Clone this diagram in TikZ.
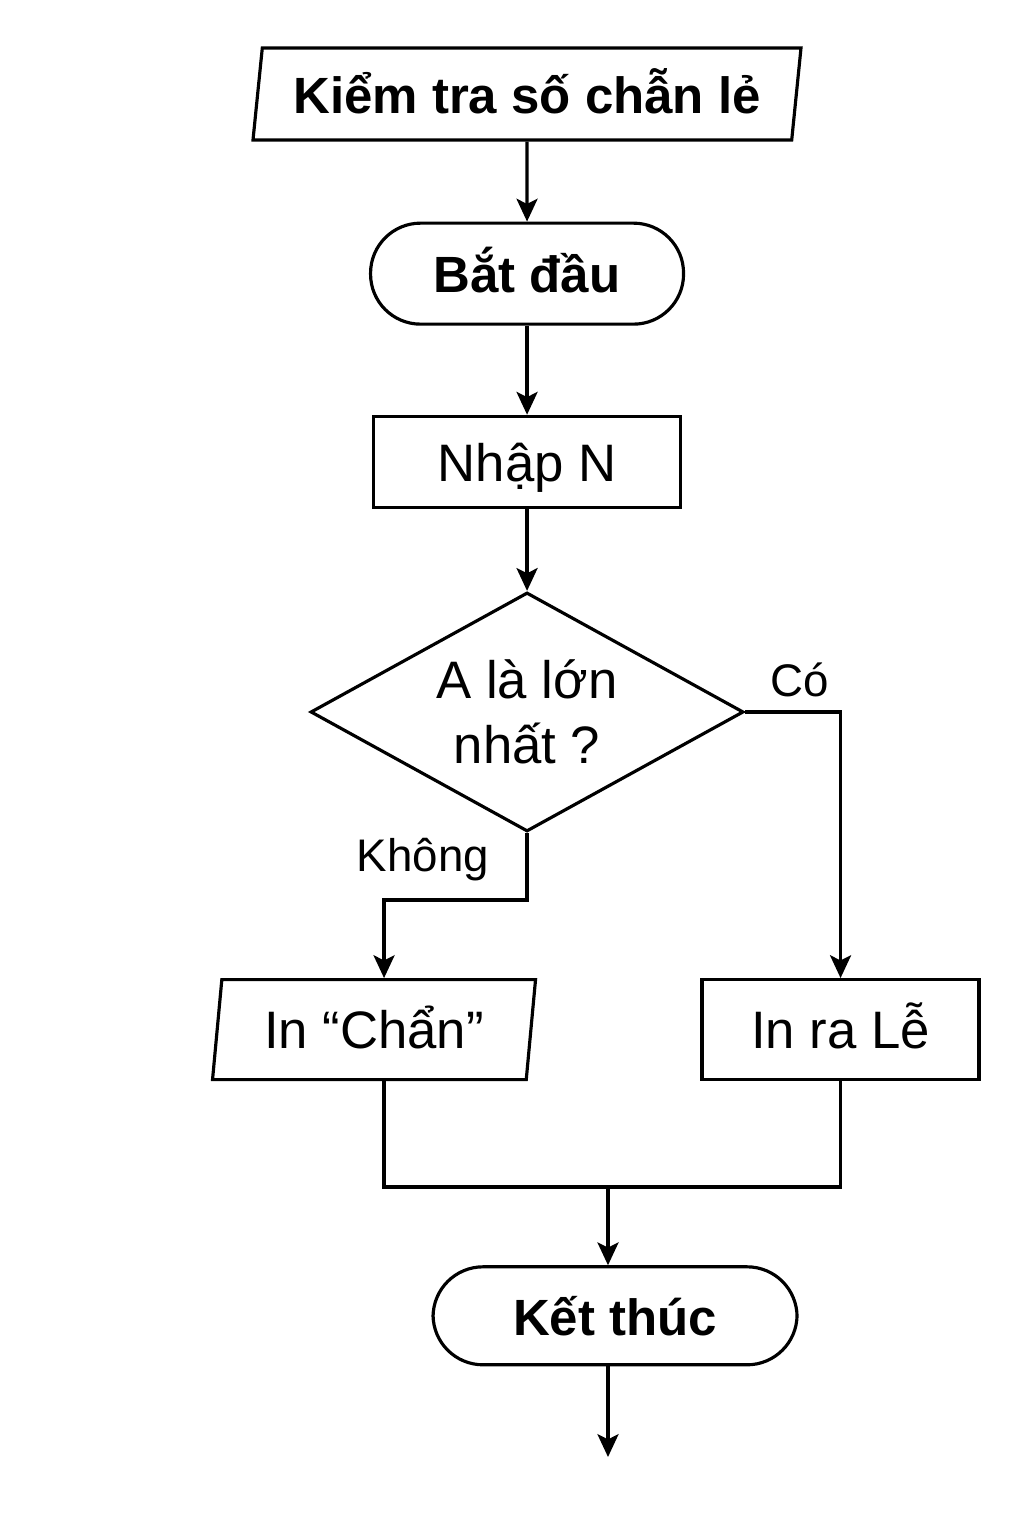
\documentclass[tikz,border=0pt]{standalone}
\usepackage{fontspec}
\setmainfont{Liberation Sans}
\usetikzlibrary{positioning}
\usetikzlibrary{shapes.geometric}
\usetikzlibrary{arrows.meta}
\tikzset{box node/.style={draw,line width=0.9pt,inner sep=2pt,align=center,font=\fontsize{15}{18.5}\selectfont},
  one line/.style={text height=11pt,text depth=0pt},
  io node/.style={box node,one line,trapezium,trapezium left angle=80,trapezium right angle=100,trapezium stretches body},
  term node/.style={box node,one line,rectangle,rounded corners=0.5cm,font=\fontsize{14.5}{17}\selectfont\bfseries},
  proc node/.style={box node,one line,rectangle},
  dec node/.style={box node,diamond,aspect=1.8,inner sep=0pt},
  lbl node/.style={font=\fontsize{13}{15}\selectfont},
  line/.style={line width=0.9pt},
  arr/.style={line,-{Stealth[length=6.5pt,width=6pt,inset=1.5pt]}},}
\begin{document}
\begin{tikzpicture}
   \useasboundingbox (0,0) rectangle (10.24,15.36);
   \node[io node,font=\fontsize{14.5}{17}\selectfont\bfseries,minimum width=5.48cm,minimum height=0.92cm] (title) at (5.27,14.42) {Kiểm tra số chẫn lẻ};
   \node[term node,minimum width=3.13cm,minimum height=1.01cm] (start) [below = 0.80cm of title] {Bắt đầu};
   \node[proc node,minimum width=3.07cm,minimum height=0.91cm] (input) [below = 0.89cm of start] {Nhập N};
   \node[dec node,minimum width=4.33cm,minimum height=2.39cm] (dec) [below = 0.82cm of input] {A là lớn\\nhất ?};
   \node[io node,minimum width=3.23cm,minimum height=1.0cm] (even) [below = 1.45cm of dec, xshift=-1.53cm] {In “Chẩn”};
   \node[proc node,minimum width=2.77cm,minimum height=1.0cm] (odd) [below = 1.45cm of dec, xshift=3.135cm] {In ra Lễ};
   \node[term node,minimum width=3.64cm,minimum height=0.98cm] (stop) [below = 1.84cm of odd, xshift=-2.255cm] {Kết thúc};
   \node[lbl node] (yes) at (8.0,8.56) {Có};
   \node[lbl node] (no) at (4.23,6.76) {Không};
   \coordinate (join) at (6.08,3.49);
   \coordinate (out) at (6.08,0.79);

   \draw[arr] (title) -- (start);
   \draw[arr] (start) -- (input);
   \draw[arr] (input) -- (dec);
   \draw[arr] (dec.east) -| (odd.north);
   \draw[arr] (dec.south) -- ++(0,-0.67) -| ([xshift=0.1cm]even.north);
   \draw[line] ([xshift=0.1cm]even.south) |- (join) -| (odd.south);
   \draw[arr] (join) -- (join |- stop.north);
   \draw[arr] (join |- stop.south) -- (out);
\end{tikzpicture}
\end{document}
